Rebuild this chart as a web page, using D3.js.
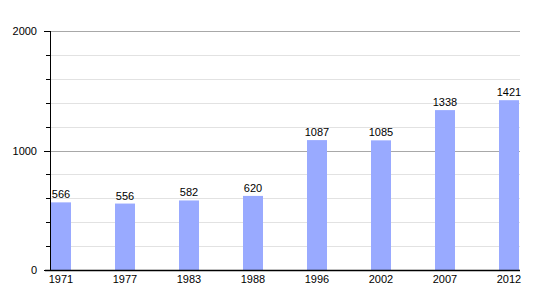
<!DOCTYPE html>
<html><head><meta charset="utf-8">
<script src="https://cdn.jsdelivr.net/npm/d3@7"></script>
<style>body{margin:0;background:#fff}svg{display:block}text{font-family:"Liberation Sans",Arial,sans-serif}</style>
</head><body><svg width="550" height="300"></svg>
<script>
const years = ["1971","1977","1983","1988","1996","2002","2007","2012"];
const population = [566,556,582,620,1087,1085,1338,1421];
const majorTicks = [0,1000,2000];
const minorTicks = [200,400,600,800,1200,1400,1600,1800];

const svg = d3.select("svg");
const x0 = 50, x1 = 520, yTop = 31, yBot = 270;
const y = d3.scaleLinear().domain([0,2000]).range([yBot,yTop]);
const barW = 20;
const x = d3.scalePoint().domain(years).range([x0+1+barW/2, x1-1-barW/2]);

// gridlines
svg.append("g").selectAll("line").data(minorTicks).join("line")
  .attr("x1",x0).attr("x2",x1).attr("y1",d=>Math.round(y(d))+0.5).attr("y2",d=>Math.round(y(d))+0.5)
  .attr("stroke","#e2e2e2").attr("stroke-width",1);
svg.append("g").selectAll("line").data(majorTicks.filter(d=>d>0)).join("line")
  .attr("x1",x0).attr("x2",x1).attr("y1",d=>Math.round(y(d))+0.5).attr("y2",d=>Math.round(y(d))+0.5)
  .attr("stroke","#a8a8a8").attr("stroke-width",1);
// minor tick marks
svg.append("g").selectAll("line").data(minorTicks).join("line")
  .attr("x1",x0-4).attr("x2",x0).attr("y1",d=>Math.round(y(d))+0.5).attr("y2",d=>Math.round(y(d))+0.5)
  .attr("stroke","#000").attr("stroke-width",1);
svg.append("g").selectAll("line").data(majorTicks).join("line")
  .attr("x1",x0-6).attr("x2",x0).attr("y1",d=>Math.round(y(d))+0.5).attr("y2",d=>Math.round(y(d))+0.5)
  .attr("stroke","#000").attr("stroke-width",1);

// bars
svg.append("g").selectAll("rect").data(population).join("rect")
  .attr("x",(d,i)=>x(years[i])-barW/2).attr("width",barW)
  .attr("y",d=>y(d)).attr("height",d=>yBot-y(d))
  .attr("fill","#99aaff");

// value labels
svg.append("g").selectAll("text").data(population).join("text")
  .attr("x",(d,i)=>x(years[i])).attr("y",d=>y(d)-4)
  .attr("text-anchor","middle").attr("font-size",11).attr("fill","#000")
  .text(d=>d);

// axes lines
svg.append("line").attr("x1",x0+0.5).attr("x2",x0+0.5).attr("y1",yTop).attr("y2",yBot).attr("stroke","#000");
svg.append("line").attr("x1",x0-5).attr("x2",x1).attr("y1",yBot+0.5).attr("y2",yBot+0.5).attr("stroke","#000").attr("stroke-width",1.5);

// y labels
svg.append("g").selectAll("text").data(majorTicks).join("text")
  .attr("x",37).attr("y",d=>y(d)+4).attr("text-anchor","end").attr("font-size",11).text(d=>d);

// x labels
svg.append("g").selectAll("text").data(years).join("text")
  .attr("x",d=>x(d)).attr("y",283).attr("text-anchor","middle").attr("font-size",11).text(d=>d);
</script></body></html>
